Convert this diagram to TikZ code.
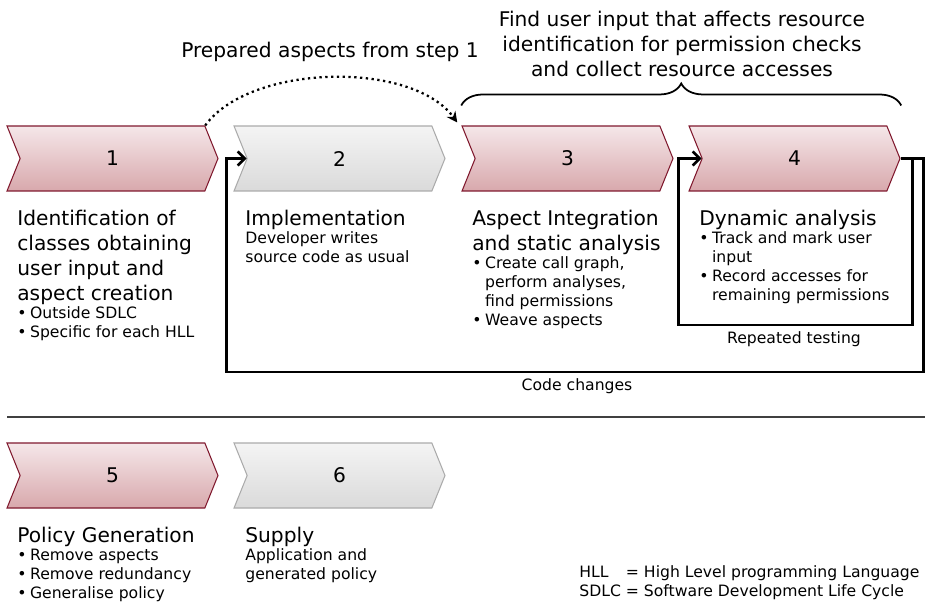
\documentclass[tikz,border=0pt]{standalone}
\usepackage{fontspec}
\setmainfont{DejaVu Sans}
\usetikzlibrary{shapes.symbols,arrows.meta,positioning,calc,decorations.pathreplacing}

\definecolor{stepred}{HTML}{80192E}
\definecolor{redtop}{HTML}{F5E7E9}
\definecolor{redbot}{HTML}{D8A8AC}
\definecolor{stepgrey}{HTML}{ABABAB}
\definecolor{greytop}{HTML}{F4F4F4}
\definecolor{greybot}{HTML}{DADADA}

\begin{document}
\begin{tikzpicture}[
    x=0.02cm, y=-0.02cm,
    stage/.style={signal, signal to=east, signal from=west, signal pointer angle=136,
        minimum width=4.22cm, minimum height=1.3cm, inner sep=0pt, line width=0.6pt,
        font=\fontsize{11.5}{14.2}\selectfont},
    redstage/.style={stage, draw=stepred, top color=redtop, bottom color=redbot},
    greystage/.style={stage, draw=stepgrey, top color=greytop, bottom color=greybot},
    title/.style={align=left, inner sep=0pt, anchor=north west, font=\fontsize{11.5}{14.2}\selectfont},
    body/.style={inner sep=0pt, anchor=north west, font=\fontsize{8.9}{10.8}\selectfont},
    flow/.style={line width=1.5pt, -{Straight Barb[length=4pt,width=8pt]}},
]
\useasboundingbox (0,0) rectangle (935,605);

% development cycle
\node[redstage]  (step1) at (112.5,158.5) {1};
\node[greystage] (step2) at (339.5,158.5) {2};
\node[redstage]  (step3) at (567.5,158.5) {3};
\node[redstage]  (step4) at (794.5,158.5) {4};

% descriptions
\node[title] (title1) at (17,210) {Identification of\\classes obtaining\\user input and\\aspect creation};
\node[body] (body1) at (title1.south west) {\begin{tabular}{@{}l@{\hspace{2pt}}l@{}}
  \textbullet & Outside SDLC\\ \textbullet & Specific for each HLL\end{tabular}};

\node[title] (title2) at (245,210) {Implementation};
\node[body] (body2) at (title2.south west) {\begin{tabular}{@{}l@{}}
  Developer writes\\ source code as usual\end{tabular}};

\node[title] (title3) at (472,210) {Aspect Integration\\and static analysis};
\node[body] (body3) at (title3.south west) {\begin{tabular}{@{}l@{\hspace{2pt}}l@{}}
  \textbullet & Create call graph,\\ & perform analyses,\\ & find permissions\\ \textbullet & Weave aspects\end{tabular}};

\node[title] (title4) at (699,210) {Dynamic analysis};
\node[body] (body4) at (title4.south west) {\begin{tabular}{@{}l@{\hspace{2pt}}l@{}}
  \textbullet & Track and mark user\\ & input\\ \textbullet & Record accesses for\\ & remaining permissions\end{tabular}};

% feedback loops
\draw[flow] (step4.east) -- ++(12,0) -- ++(0,166.5) -| ($(step4.west)+(-23,0)$) -- (step4.west);
\draw[flow] (step4.east) -- ++(23,0) -- ++(0,213.5) -| ($(step2.west)+(-20,0)$) -- (step2.west);
\node[body, anchor=base] (retest) at (794,343) {Repeated testing};
\node[body, anchor=base] (rework) at (577,390) {Code changes};

% preparation and analysis goal
\draw[line width=1.3pt, dotted, -{Stealth[length=6pt,width=6pt]}]
  (step1.north east) .. controls +(45,-62) and +(-45,-62) .. ($(step3.north west)+(-4,-3)$);
\node[title, anchor=base] (prep) at (330,57) {Prepared aspects from step 1};

\draw[line width=1pt, decorate, decoration={brace, amplitude=0.44cm}]
  ($(step3.north west)+(0,-20)$) -- ($(step4.north east)+(14,-20)$);
\node[title, align=center, anchor=north] (goal) at (682,11)
  {Find user input that affects resource\\identification for permission checks\\and collect resource accesses};

\draw[line width=0.8pt, black!75] (7,417) -- (925,417);

% after the cycle
\node[redstage]  (step5) at (112.5,475.5) {5};
\node[greystage] (step6) at (339.5,475.5) {6};

\node[title] (title5) at (17,527) {Policy Generation};
\node[body] (body5) at (title5.south west) {\begin{tabular}{@{}l@{\hspace{2pt}}l@{}}
  \textbullet & Remove aspects\\ \textbullet & Remove redundancy\\ \textbullet & Generalise policy\end{tabular}};

\node[title] (title6) at (245,527) {Supply};
\node[body] (body6) at (title6.south west) {\begin{tabular}{@{}l@{}}
  Application and\\ generated policy\end{tabular}};

\node[body] (legend) at (579,564) {\begin{tabular}{@{}l@{ }l@{}}
  HLL & = High Level programming Language\\ SDLC & = Software Development Life Cycle\end{tabular}};

\end{tikzpicture}
\end{document}
